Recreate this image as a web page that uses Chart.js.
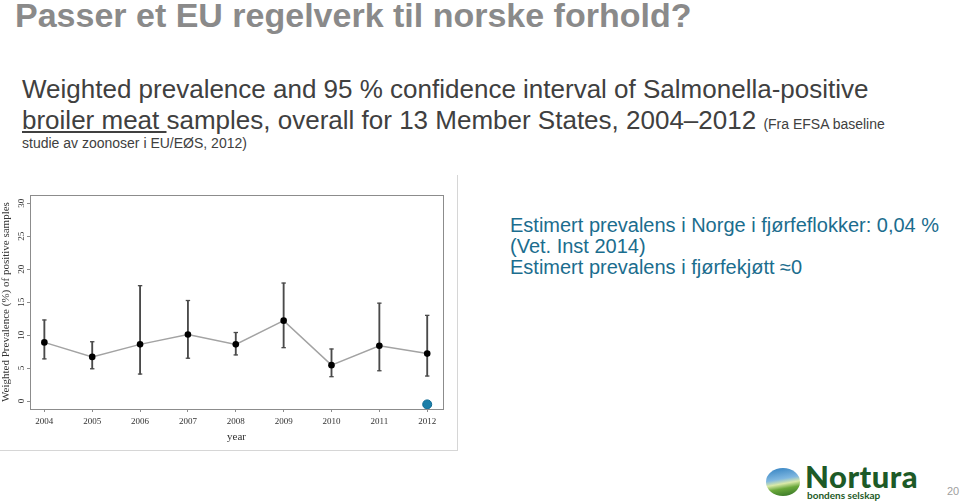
<!DOCTYPE html>
<html>
<head>
<meta charset="utf-8">
<script src="https://cdn.jsdelivr.net/npm/chart.js@4.4.1/dist/chart.umd.min.js"></script>
<style>
  body { margin: 0; background: #fff; width: 960px; height: 501px; position: relative; overflow: hidden; font-family: "Liberation Sans", Arial, sans-serif; }
  .abs { position: absolute; white-space: nowrap; }
  #title { left: 15px; top: -2px; font-size: 34px; line-height: 34px; font-weight: bold; color: #8a8a8a; }
  .sub { left: 22px; font-size: 26px; line-height: 26px; color: #404040; }
  .small { font-size: 14px; line-height: 14px; color: #404040; }
  .note { left: 510px; font-size: 20px; line-height: 20px; color: #1b6d8e; }
  #chartBox { left: 0; top: 175px; width: 457px; height: 275px; border-right: 1px solid #d6d6d6; border-bottom: 1px solid #d6d6d6; }
  #logoGlobe { left: 766px; top: 468px; width: 34px; height: 28px; border-radius: 50%;
    background: linear-gradient(170deg, #2f7fc0 0%, #7fb7e0 40%, #d9e9a8 55%, #6aa83a 70%, #2e6d25 100%); }
  #logoText { left: 805px; top: 461px; font-family: "Lato", sans-serif; font-weight: 900; font-size: 31px; line-height: 31px; color: #1d5a27; letter-spacing: 0.5px; }
  #logoSub { left: 807px; top: 490px; font-family: "Lato", sans-serif; font-weight: bold; font-size: 10px; line-height: 10px; color: #1d5a27; }
  #page { left: 947px; top: 486px; font-size: 11px; line-height: 11px; color: #a0a0a0; }
</style>
</head>
<body>
<div id="title" class="abs">Passer et EU regelverk til norske forhold?</div>
<div class="abs sub" style="top:76px">Weighted prevalence and 95 % confidence interval of Salmonella-positive</div>
<div class="abs sub" style="top:107px"><span style="text-decoration: underline">broiler meat </span>samples, overall for 13 Member States, 2004–2012 <span class="small">(Fra EFSA baseline</span></div>
<div class="abs small" style="left:22px; top:136px">studie av zoonoser i EU/EØS, 2012)</div>

<div id="chartBox" class="abs"><canvas id="prevChart"></canvas></div>

<div class="abs note" style="top:215px">Estimert prevalens i Norge i fjørfeflokker: 0,04 %</div>
<div class="abs note" style="top:236px">(Vet. Inst 2014)</div>
<div class="abs note" style="top:257px">Estimert prevalens i fjørfekjøtt ≈0</div>

<div id="logoGlobe" class="abs"></div>
<div id="logoText" class="abs">Nortura</div>
<div id="logoSub" class="abs">bondens selskap</div>
<div id="page" class="abs">20</div>

<script>
// weighted prevalence (%) of Salmonella-positive broiler meat samples
const years = [2004, 2005, 2006, 2007, 2008, 2009, 2010, 2011, 2012];
const prevalence = [8.9, 6.7, 8.6, 10.1, 8.6, 12.2, 5.45, 8.4, 7.2];
const ciLower = [6.4, 4.9, 4.1, 6.5, 7.0, 8.1, 3.7, 4.6, 3.8];
const ciUpper = [12.3, 9.0, 17.5, 15.25, 10.4, 17.9, 7.9, 14.85, 13.0];
const yTicks = [0, 5, 10, 15, 20, 25, 30];
// Norwegian estimate marker drawn at 2012
const norwayYear = [2012];
const norwayValue = [-0.5];

const serif = '"Liberation Serif", "Times New Roman", serif';

// R-style box round the plot area
const boxPlugin = {
    id: 'box',
    afterDatasetsDraw(chart) {
        const a = chart.chartArea;
        const ctx = chart.ctx;
        ctx.save();
        ctx.strokeStyle = '#8c8c8c';
        ctx.lineWidth = 1;
        ctx.strokeRect(Math.round(a.left) + 0.5, Math.round(a.top) + 0.5, Math.round(a.right - a.left), Math.round(a.bottom - a.top));
        ctx.restore();
    }
};

const ctx = document.getElementById('prevChart').getContext('2d');
new Chart(ctx, {
    type: 'scatter',
    data: {
        datasets: [
            {
                type: 'line',
                data: years.map((x, i) => ({ x: x, y: prevalence[i] })),
                showLine: true,
                borderColor: '#a3a3a3',
                borderWidth: 1.5,
                pointRadius: 3.3,
                pointBackgroundColor: '#000',
                pointBorderColor: '#000',
                pointBorderWidth: 0,
                order: 1
            },
            {
                type: 'bar',
                data: years.map((x, i) => ({ x: x, y: [ciLower[i], ciUpper[i]] })),
                backgroundColor: '#4a4a4a',
                borderWidth: 0,
                barThickness: 1.2,
                order: 3
            },
            {
                type: 'line',
                showLine: false,
                data: years.map((x, i) => ({ x: x, y: ciUpper[i] })),
                pointStyle: 'line',
                pointRadius: 2.2,
                pointBorderWidth: 1.3,
                pointBorderColor: '#4a4a4a',
                order: 2
            },
            {
                type: 'line',
                showLine: false,
                data: years.map((x, i) => ({ x: x, y: ciLower[i] })),
                pointStyle: 'line',
                pointRadius: 2.2,
                pointBorderWidth: 1.3,
                pointBorderColor: '#4a4a4a',
                order: 2
            },
            {
                type: 'line',
                showLine: false,
                data: norwayYear.map((x, i) => ({ x: x, y: norwayValue[i] })),
                pointRadius: 4.5,
                pointBackgroundColor: '#1c7fa9',
                pointBorderColor: '#0f6a92',
                pointBorderWidth: 1,
                order: 0
            }
        ]
    },
    options: {
        responsive: true,
        maintainAspectRatio: false,
        animation: false,
        layout: { padding: { top: 20, right: 14, left: 0, bottom: 0 } },
        plugins: {
            legend: { display: false },
            tooltip: { enabled: false }
        },
        scales: {
            x: {
                type: 'linear',
                min: 2003.7,
                max: 2012.33,
                offset: false,
                grid: { offset: false, drawOnChartArea: false, drawTicks: true, tickLength: 3, color: '#8c8c8c' },
                border: { display: false },
                afterBuildTicks: function(scale) { scale.ticks = years.map(v => ({ value: v })); },
                afterFit: function(scale) { scale.height = 41; },
                ticks: {
                    padding: 4,
                    color: '#333',
                    font: { family: serif, size: 9 },
                    maxRotation: 0,
                    callback: v => String(v)
                },
                title: {
                    display: true,
                    text: 'year',
                    color: '#333',
                    font: { family: serif, size: 11 },
                    padding: { top: 0, bottom: 6 }
                }
            },
            y: {
                type: 'linear',
                min: -1.2,
                max: 31.25,
                grid: { drawOnChartArea: false, drawTicks: true, tickLength: 3, color: '#8c8c8c' },
                border: { display: false },
                afterBuildTicks: function(scale) { scale.ticks = yTicks.map(v => ({ value: v })); },
                afterFit: function(scale) { scale.width = 30; },
                ticks: {
                    padding: 1,
                    minRotation: 90,
                    maxRotation: 90,
                    crossAlign: 'center',
                    color: '#333',
                    font: { family: serif, size: 9 },
                    callback: v => String(v)
                },
                title: {
                    display: true,
                    text: 'Weighted Prevalence (%) of positive samples',
                    color: '#333',
                    font: { family: serif, size: 11 },
                    padding: 0
                }
            }
        }
    },
    plugins: [boxPlugin]
});
</script>
</body>
</html>
